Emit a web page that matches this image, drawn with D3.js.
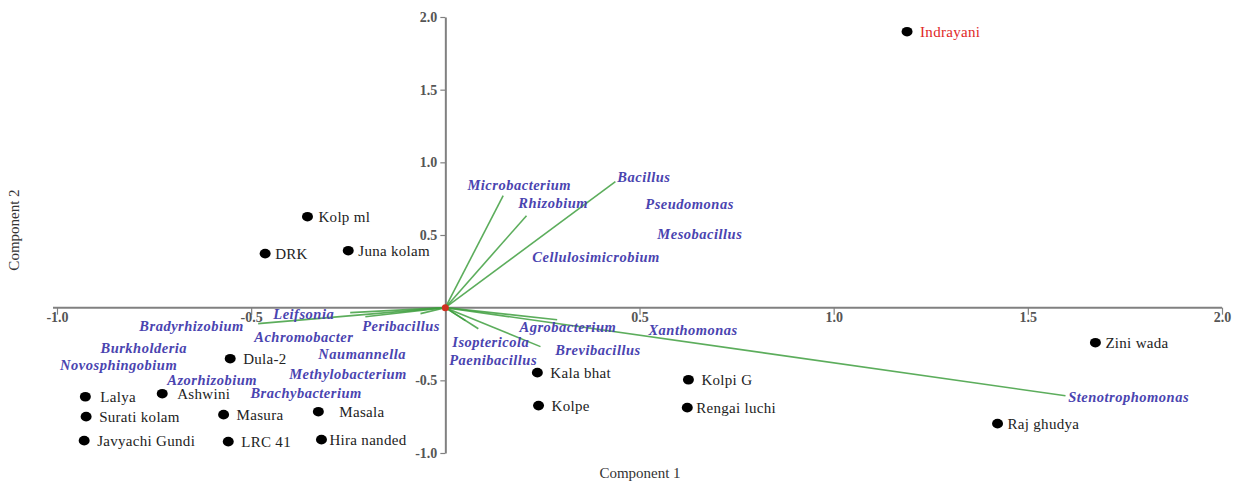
<!DOCTYPE html>
<html><head><meta charset="utf-8">
<script src="https://cdn.jsdelivr.net/npm/d3@7"></script>
<style>body{margin:0;background:#fff;} svg{display:block;}</style>
</head><body>
<script>
// ---- data ----
const sampleNames = ["Indrayani","Kolp ml","DRK","Juna kolam","Dula-2","Lalya","Ashwini","Surati kolam","Masura","Masala","Javyachi Gundi","LRC 41","Hira nanded","Kala bhat","Kolpe","Kolpi G","Rengai luchi","Zini wada","Raj ghudya"];
const sampleC1 = [1.189,-0.355,-0.464,-0.250,-0.554,-0.927,-0.729,-0.925,-0.571,-0.327,-0.930,-0.559,-0.319,0.237,0.240,0.626,0.623,1.674,1.422];
const sampleC2 = [1.899,0.626,0.372,0.392,-0.351,-0.613,-0.592,-0.750,-0.736,-0.716,-0.915,-0.922,-0.908,-0.447,-0.674,-0.496,-0.688,-0.241,-0.798];

const speciesNames = ["Microbacterium","Rhizobium","Bacillus","Pseudomonas","Mesobacillus","Cellulosimicrobium","Leifsonia","Bradyrhizobium","Peribacillus","Achromobacter","Burkholderia","Naumannella","Novosphingobium","Methylobacterium","Azorhizobium","Brachybacterium","Agrobacterium","Xanthomonas","Isoptericola","Brevibacillus","Paenibacillus","Stenotrophomonas"];
// loading vector ends (null = no visible vector)
const loadC1 = [0.149,0.209,0.438,null,null,null,-0.245,-0.482,-0.064,-0.206,null,null,null,null,null,null,0.288,null,0.085,0.245,0.052,1.597];
const loadC2 = [0.771,0.633,0.867,null,null,null,-0.034,-0.110,-0.041,-0.062,null,null,null,null,null,null,-0.083,null,-0.145,-0.268,-0.089,-0.606];
// label anchor (left edge, middle) in component units
const labC1 = [0.057,0.188,0.443,0.515,0.546,0.224,-0.443,-0.788,-0.214,-0.492,-0.888,-0.327,-0.992,-0.402,-0.716,-0.502,0.191,0.523,0.018,0.283,0.010,1.604];
const labC2 = [0.847,0.723,0.902,0.716,0.509,0.351,-0.041,-0.124,-0.124,-0.200,-0.275,-0.317,-0.392,-0.454,-0.496,-0.590,-0.131,-0.151,-0.234,-0.289,-0.358,-0.613];

const xTicks = [-1.0,-0.5,0.5,1.0,1.5,2.0];
const yTicks = [-1.0,-0.5,0.5,1.0,1.5,2.0];
const xTitle = "Component 1", yTitle = "Component 2";

// ---- drawing ----
const W = 1237, H = 485;
const svg = d3.select("body").append("svg").attr("width", W).attr("height", H);
const x = d3.scaleLinear().domain([-1, 2]).range([57, 1222]);
const y = d3.scaleLinear().domain([-1, 2]).range([453, 17]);
const serif = "'Liberation Serif','Times New Roman',serif";
const labelDx = {"Kolp ml":11,"DRK":10,"Masala":21,"Hira nanded":8,"Lalya":15,"Ashwini":15,"Juna kolam":10,"Rengai luchi":9,"Zini wada":10,"Raj ghudya":10};

// axes
const gx = svg.append("g").attr("transform", `translate(0,${y(0)})`)
  .call(d3.axisBottom(x).tickValues(xTicks).tickFormat(d => d.toFixed(1)).tickSize(7).tickSizeOuter(0).tickPadding(-3));
const gy = svg.append("g").attr("transform", `translate(${x(0)},0)`)
  .call(d3.axisLeft(y).tickValues(yTicks).tickFormat(d => d.toFixed(1)).tickSize(5).tickSizeOuter(0).tickPadding(3));
[gx, gy].forEach(g => {
  g.select(".domain").attr("stroke", "#808080").attr("stroke-width", 2);
  g.selectAll(".tick line").attr("stroke", "#808080").attr("stroke-width", 1.2);
  g.selectAll(".tick text").attr("font-family", serif).attr("font-size", 14).attr("font-weight", "bold").attr("fill", "#555");
});
gx.select(".domain").attr("d", `M${x(-1)-4},0H${x(2)}`);

// loading vectors
const vec = speciesNames.map((n, i) => ({n, vx: loadC1[i], vy: loadC2[i]})).filter(d => d.vx !== null);
svg.append("g").selectAll("line").data(vec).join("line")
  .attr("x1", x(0)).attr("y1", y(0)).attr("x2", d => x(d.vx)).attr("y2", d => y(d.vy))
  .attr("stroke", "#3f9f3f").attr("stroke-width", 1.6).attr("stroke-opacity", 0.85);
svg.append("circle").attr("cx", x(0)).attr("cy", y(0)).attr("r", 3.5).attr("fill", "#d03020");

// species labels
svg.append("g").selectAll("text").data(speciesNames).join("text")
  .attr("x", (d, i) => x(labC1[i])).attr("y", (d, i) => y(labC2[i]))
  .attr("dy", "0.35em")
  .attr("font-family", serif).attr("font-style", "italic").attr("font-weight", "bold")
  .attr("font-size", 14.5).attr("letter-spacing", 0.5).attr("fill", "#4a44b0").text(d => d);

// samples
const samples = sampleNames.map((n, i) => ({n, c1: sampleC1[i], c2: sampleC2[i]}));
const sg = svg.append("g");
sg.selectAll("ellipse").data(samples).join("ellipse")
  .attr("cx", d => x(d.c1)).attr("cy", d => y(d.c2)).attr("rx", 5.5).attr("ry", 4.8).attr("fill", "#000");
sg.selectAll("text").data(samples).join("text")
  .attr("x", d => x(d.c1) + (labelDx[d.n] ?? 13)).attr("y", d => y(d.c2)).attr("dy", "0.35em")
  .attr("font-family", serif).attr("font-size", 15).attr("letter-spacing", 0.3)
  .attr("fill", d => d.n === "Indrayani" ? "#e02828" : "#222").text(d => d.n);

// axis titles
svg.append("text").attr("x", 640).attr("y", 478).attr("text-anchor", "middle")
  .attr("font-family", serif).attr("font-size", 15).attr("fill", "#333").text(xTitle);
svg.append("text").attr("transform", "translate(19,230) rotate(-90)").attr("text-anchor", "middle")
  .attr("font-family", serif).attr("font-size", 15).attr("fill", "#333").text(yTitle);
</script>
</body></html>
